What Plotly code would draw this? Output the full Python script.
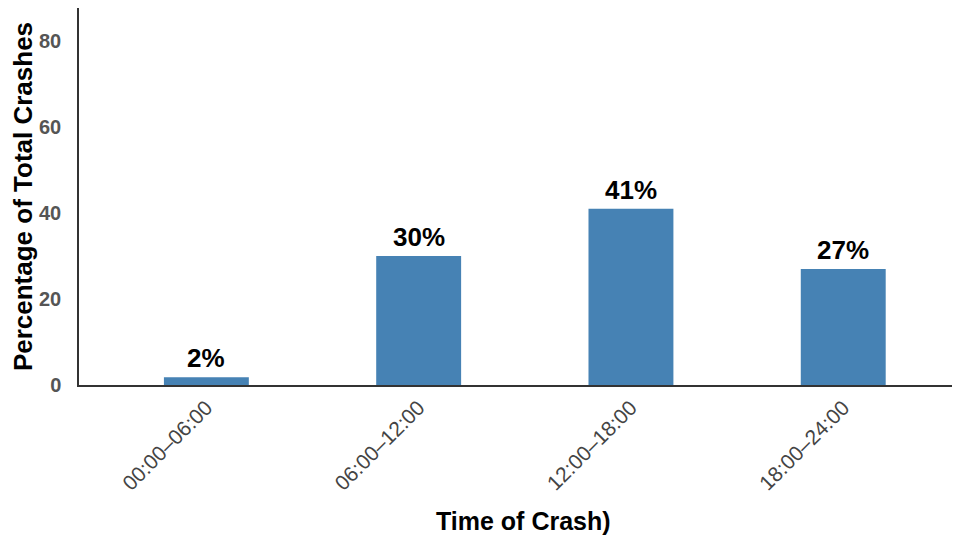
import plotly.graph_objects as go

# Share of crashes by time-of-day band
time_bands = ['00:00–06:00', '06:00–12:00', '12:00–18:00', '18:00–24:00']
crash_pct = [1.8, 30.0, 41.0, 27.0]
y_ticks = [0, 20, 40, 60, 80]

FONT = 'Arial, Liberation Sans, sans-serif'
BAR_COLOR = '#4682B4'

fig = go.Figure()

fig.add_bar(
    x=list(range(len(time_bands))), y=crash_pct,
    width=0.4, marker=dict(color=BAR_COLOR, line=dict(width=0)),
    hoverinfo='skip',
)

# percentage labels above each bar
for i, v in enumerate(crash_pct):
    fig.add_annotation(
        x=i, y=v, xref='x', yref='y',
        text=f'<b>{v:.0f}%</b>', showarrow=False,
        yanchor='bottom', yshift=2,
        font=dict(family=FONT, size=26, color='#000000'),
    )

# axis titles as annotations so they sit exactly where the reference has them
fig.add_annotation(
    x=-0.064, y=0.5, xref='paper', yref='paper',
    text='<b>Percentage of Total Crashes</b>', textangle=-90,
    showarrow=False, xanchor='center', yanchor='middle',
    font=dict(family=FONT, size=26, color='#000000'),
)
fig.add_annotation(
    x=0.505, y=-0.36, xref='paper', yref='paper',
    text='<b>Time of Crash)</b>', showarrow=False,
    xanchor='center', yanchor='middle',
    font=dict(family=FONT, size=25, color='#000000'),
)

# page body has an 8px margin, so size the figure to fit the window without scrollbars
fig.update_layout(
    width=952, height=535,
    margin=dict(l=71, r=0, t=0, b=158, pad=0),
    paper_bgcolor='white', plot_bgcolor='white',
    showlegend=False,
    xaxis=dict(
        range=[-0.6, 3.55], automargin=False,
        tickmode='array', tickvals=list(range(len(time_bands))), ticktext=time_bands,
        tickangle=-45,
        tickfont=dict(family=FONT, size=21, color='#444444'),
        showline=True, linecolor='#333333', linewidth=2, mirror=True,
        showgrid=False, zeroline=False, ticks='',
    ),
    yaxis=dict(
        range=[0, 87.7], automargin=False,
        tickmode='array', tickvals=y_ticks, ticktext=[f'<b>{t}</b>' for t in y_ticks],
        tickfont=dict(family=FONT, size=20, color='#555555'),
        ticklabelstandoff=12,
        showline=True, linecolor='#333333', linewidth=1.5,
        showgrid=False, zeroline=False, ticks='',
    ),
)

fig.write_html("out.html")
